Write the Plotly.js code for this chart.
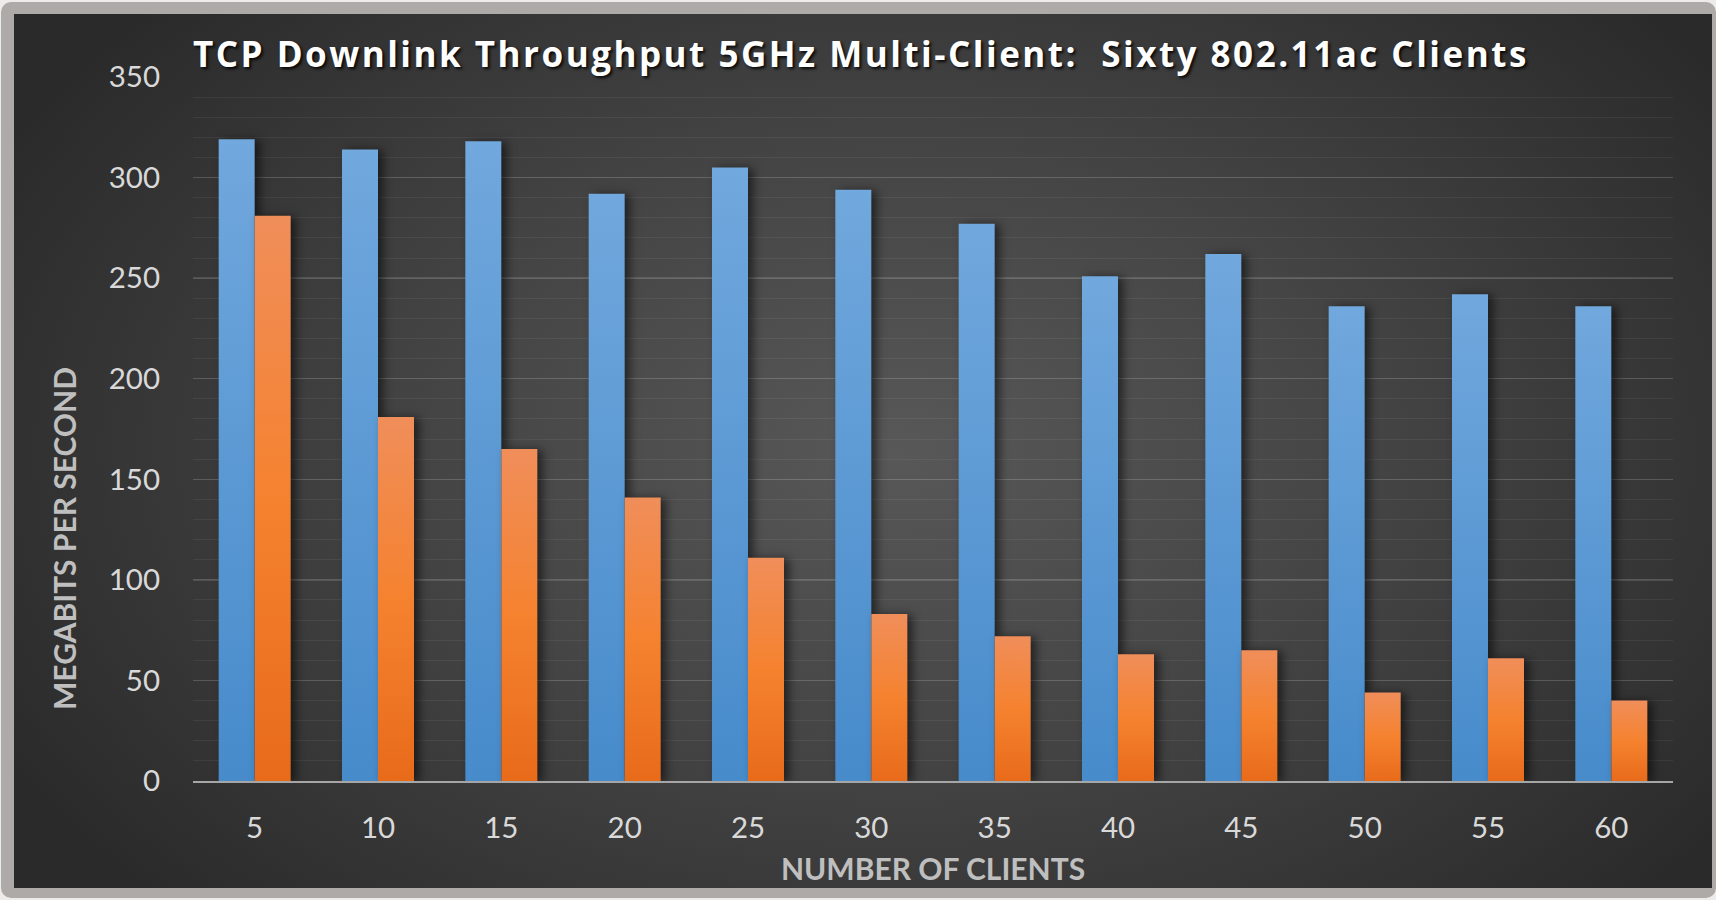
<!DOCTYPE html>
<html>
<head>
<meta charset="utf-8">
<script src="https://cdn.plot.ly/plotly-3.0.1.min.js"></script>
<style>
  html, body { margin: 0; padding: 0; background: #eeecea; width: 1716px; height: 900px; overflow: hidden; }
  #frame { position: absolute; left: 1px; top: 2px; width: 1715px; height: 896px; background: #aeaaa7; border-radius: 10px; }
  #panel { position: absolute; left: 14px; top: 14px; width: 1698px; height: 874px;
           background: radial-gradient(ellipse 60% 75% at 52% 50%, #585858 0%, #454545 45%, #2a2a2a 100%); }
  #chart { position: absolute; left: 0; top: 0; width: 1716px; height: 900px; }
  .barlayer .trace:nth-child(1) .point path { fill: url(#gBlue) !important; filter: drop-shadow(5px 1px 5px rgba(0,0,0,0.55)); }
  .barlayer .trace:nth-child(2) .point path { fill: url(#gOrange) !important; filter: drop-shadow(5px 1px 5px rgba(0,0,0,0.55)); }
  .gtitle { letter-spacing: 2.5px; }
</style>
</head>
<body>
<svg width="0" height="0" style="position:absolute">
  <defs>
    <linearGradient id="gBlue" x1="0" y1="0" x2="0" y2="1">
      <stop offset="0" stop-color="#71a8dd"/>
      <stop offset="1" stop-color="#478bcb"/>
    </linearGradient>
    <linearGradient id="gOrange" x1="0" y1="0" x2="0" y2="1">
      <stop offset="0" stop-color="#f08e5a"/>
      <stop offset="0.5" stop-color="#f5822f"/>
      <stop offset="1" stop-color="#e86b1a"/>
    </linearGradient>
  </defs>
</svg>
<div id="frame"></div>
<div id="panel"></div>
<div id="chart"></div>
<script>
const clients = ['5','10','15','20','25','30','35','40','45','50','55','60'];
const seriesA = [319, 314, 318, 292, 305, 294, 277, 251, 262, 236, 242, 236];
const seriesB = [281, 181, 165, 141, 111, 83, 72, 63, 65, 44, 61, 40];
const yTicks = [0, 50, 100, 150, 200, 250, 300, 350];

const tickFont = {family: 'Lato, sans-serif', size: 29.5, color: '#d9d9d9'};
const titleFont = {family: 'Lato, sans-serif', size: 30, color: '#bfbfbf', weight: 700};

const data = [
  {type: 'bar', name: 'Series 1', x: clients, y: seriesA, marker: {color: '#5b9bd5'}, hoverinfo: 'x+y'},
  {type: 'bar', name: 'Series 2', x: clients, y: seriesB, marker: {color: '#f07d30'}, hoverinfo: 'x+y'}
];

const layout = {
  width: 1716, height: 900,
  paper_bgcolor: 'rgba(0,0,0,0)', plot_bgcolor: 'rgba(0,0,0,0)',
  margin: {l: 193, r: 43, t: 77, b: 119, pad: 0},
  showlegend: false,
  barmode: 'group', bargap: 0.416, bargroupgap: 0,
  title: {
    text: 'TCP Downlink Throughput 5GHz Multi-Client:&nbsp; Sixty 802.11ac Clients',
    xref: 'container', yref: 'container', x: 193/1716, xanchor: 'left', y: 1 - 55/900, yanchor: 'middle',
    font: {family: '"Open Sans", sans-serif', size: 35, color: '#ffffff', weight: 700, shadow: '2px 2px 3px rgba(0,0,0,0.85)'}
  },
  xaxis: {
    type: 'category', categoryorder: 'array', categoryarray: clients,
    tickfont: tickFont, showgrid: false, zeroline: false,
    showline: true, linecolor: '#a6a6a6', linewidth: 2,
    ticks: '', ticklabelstandoff: 20,
    title: {text: 'NUMBER OF CLIENTS', font: titleFont, standoff: 16}
  },
  yaxis: {
    range: [0, 350], tickvals: yTicks, ticktext: yTicks.map(String),
    tickfont: tickFont, ticks: '', ticklabelstandoff: 32,
    showgrid: true, gridcolor: 'rgba(255,255,255,0.13)', gridwidth: 1.5,
    zeroline: false, showline: false,
    minor: {dtick: 10, showgrid: true, gridcolor: 'rgba(255,255,255,0.06)', gridwidth: 1}
  },
  annotations: [{
    text: 'MEGABITS PER SECOND', textangle: -90, showarrow: false,
    xref: 'paper', yref: 'paper', x: (63.5 - 193) / 1480, y: (781 - 538.5) / 704,
    xanchor: 'center', yanchor: 'middle', font: titleFont
  }]
};

Plotly.newPlot('chart', data, layout, {displayModeBar: false, staticPlot: true});
</script>
</body>
</html>
